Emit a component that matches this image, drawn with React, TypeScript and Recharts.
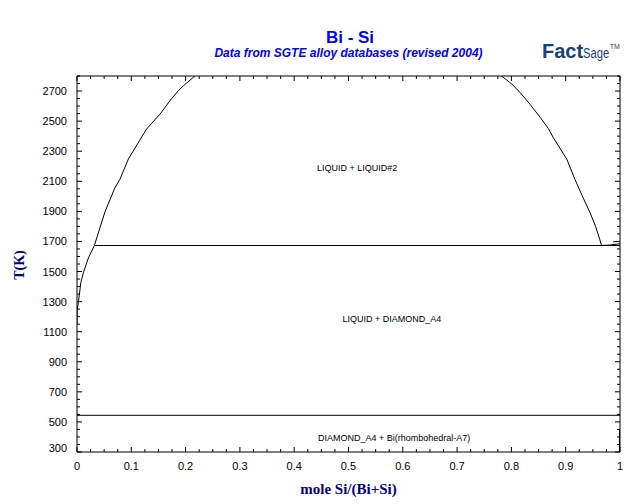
import React from 'react'
import { LineChart, Line, XAxis, YAxis, ReferenceDot } from 'recharts'

// miscibility gap, Bi-rich side (x = mole Si/(Bi+Si), t = K)
const leftX = [0, 0.0005, 0.0024, 0.007, 0.0116, 0.021, 0.032, 0.052, 0.07, 0.079, 0.0945, 0.128, 0.153, 0.171, 0.1865, 0.196, 0.217]
const leftT = [1147, 1250, 1291, 1425, 1491, 1591, 1673, 1902, 2058, 2113, 2247, 2447, 2547, 2635, 2702, 2735, 2800]

// miscibility gap, Si-rich side
const rightX = [0.782, 0.8006, 0.8158, 0.834, 0.853, 0.868, 0.877, 0.902, 0.917, 0.932, 0.945, 0.955, 0.963, 0.966]
const rightT = [2800, 2747, 2691, 2613, 2525, 2451, 2391, 2247, 2113, 1991, 1890, 1800, 1710, 1673]

// monotectic and eutectic lines
const monoX = [0.032, 1]
const monoT = [1673, 1673]
const eutX = [0, 1]
const eutT = [544, 544]

// Si liquidus near x = 1
const siX = [0.966, 0.981, 1]
const siT = [1673, 1676, 1685]
const si2X = [0.987, 0.995]
const si2T = [1697, 1700]

// solvus on the Si side
const solX = [0.999, 0.999]
const solT = [300, 447]

const xMajor = [0, 0.1, 0.2, 0.3, 0.4, 0.5, 0.6, 0.7, 0.8, 0.9, 1]
const yMajor = [300, 500, 700, 900, 1100, 1300, 1500, 1700, 1900, 2100, 2300, 2500, 2700]
const xTicks: number[] = []
for (let i = 0; i <= 40; i++) xTicks.push(i / 40)
const yTicks: number[] = []
for (let v = 300; v <= 2800; v += 50) yTicks.push(v)

const toPts = (xs: number[], ts: number[]) => xs.map((x, i) => ({ x, t: ts[i] }))

const isMajorX = (v: number) => xMajor.some((m) => Math.abs(m - v) < 1e-6)
const isMajorY = (v: number) => yMajor.includes(v)

const tickFont = { fontFamily: 'Liberation Sans, Arial, sans-serif', fontSize: 11, fill: '#000' }

const BottomTick = ({ x, y, payload }: any) => {
  const major = isMajorX(payload.value)
  return (
    <g>
      <line x1={x} x2={x} y1={y} y2={y - (major ? 5 : 3)} stroke="#000" />
      {major && (
        <text x={x} y={y + 18} textAnchor="middle" {...tickFont}>
          {String(Math.round(payload.value * 10) / 10)}
        </text>
      )}
    </g>
  )
}

const TopTick = ({ x, y, payload }: any) => {
  const major = isMajorX(payload.value)
  return <line x1={x} x2={x} y1={y} y2={y + (major ? 5 : 3)} stroke="#000" />
}

const LeftTick = ({ x, y, payload }: any) => {
  const major = isMajorY(payload.value)
  return (
    <g>
      <line x1={x} x2={x + (major ? 5 : 3)} y1={y} y2={y} stroke="#000" />
      {major && (
        <text x={x - 10} y={Math.min(y + 4, 452)} textAnchor="end" {...tickFont}>
          {payload.value}
        </text>
      )}
    </g>
  )
}

const RightTick = ({ x, y, payload }: any) => {
  const major = isMajorY(payload.value)
  return <line x1={x} x2={x - (major ? 5 : 3)} y1={y} y2={y} stroke="#000" />
}

const phaseLabel = (value: string) => ({
  value,
  position: 'center' as const,
  fontSize: 9,
  fill: '#000',
  fontFamily: 'Liberation Sans, Arial, sans-serif',
})

const series = [
  toPts(leftX, leftT),
  toPts(rightX, rightT),
  toPts(monoX, monoT),
  toPts(eutX, eutT),
  toPts(siX, siT),
  toPts(si2X, si2T),
  toPts(solX, solT),
]

export default function App() {
  return (
    <div style={{ position: 'absolute', left: 0, top: 0, width: 640, height: 504, background: '#fff' }}>
      <div
        style={{
          position: 'absolute', left: 0, width: 700, top: 29, lineHeight: '17px', textAlign: 'center',
          fontFamily: 'Liberation Sans, Arial, sans-serif', fontWeight: 'bold', fontSize: 17, color: '#0000ff',
        }}
      >
        Bi - Si
      </div>
      <div
        style={{
          position: 'absolute', left: 0, width: 697, top: 47, lineHeight: '12px', textAlign: 'center',
          fontFamily: 'Liberation Sans, Arial, sans-serif', fontStyle: 'italic', fontWeight: 'bold', fontSize: 12, color: '#0000ff',
        }}
      >
        Data from SGTE alloy databases (revised 2004)
      </div>
      <div
        style={{
          position: 'absolute', left: 542, top: 40, fontFamily: 'Liberation Sans, Arial, sans-serif',
          color: '#1b3f78', whiteSpace: 'nowrap',
        }}
      >
        <span style={{ fontWeight: 'bold', fontSize: 20 }}>Fact</span>
        <span style={{ fontSize: 14, display: 'inline-block', transform: 'scaleX(0.8)', transformOrigin: 'left' }}>Sage</span>
        <span style={{ fontSize: 7, position: 'relative', top: -9, left: -6 }}>TM</span>
      </div>
      <div
        style={{
          position: 'absolute', left: 0, width: 697, top: 481, textAlign: 'center',
          fontFamily: 'Liberation Serif, Times New Roman, serif', fontWeight: 'bold', fontSize: 15, color: '#000080',
        }}
      >
        mole Si/(Bi+Si)
      </div>
      <div
        style={{
          position: 'absolute', left: 20, top: 265, transform: 'translate(-50%, -50%) rotate(-90deg)',
          fontFamily: 'Liberation Serif, Times New Roman, serif', fontWeight: 'bold', fontSize: 14, color: '#000080',
          whiteSpace: 'nowrap',
        }}
      >
        T(K)
      </div>
      <div style={{ position: 'absolute', left: 0, top: 0 }}>
        <LineChart width={640} height={504} margin={{ top: 66, right: 10, bottom: 22, left: 17 }}>
          <XAxis
            xAxisId="b" type="number" dataKey="x" domain={[0, 1]} ticks={xTicks} interval={0}
            height={30} tickSize={0} tickMargin={0} tickLine={false} axisLine={{ stroke: '#000' }}
            tick={(p: any) => <BottomTick {...p} />} allowDataOverflow
          />
          <XAxis
            xAxisId="t" orientation="top" type="number" dataKey="x" domain={[0, 1]} ticks={xTicks} interval={0}
            height={10} tickSize={0} tickMargin={0} tickLine={false} axisLine={{ stroke: '#000' }}
            tick={(p: any) => <TopTick {...p} />} allowDataOverflow
          />
          <YAxis
            yAxisId="l" type="number" domain={[300, 2800]} ticks={yTicks} interval={0}
            width={60} tickSize={0} tickMargin={0} tickLine={false} axisLine={{ stroke: '#000' }}
            tick={(p: any) => <LeftTick {...p} />} allowDataOverflow
          />
          <YAxis
            yAxisId="r" orientation="right" type="number" domain={[300, 2800]} ticks={yTicks} interval={0}
            width={10} tickSize={0} tickMargin={0} tickLine={false} axisLine={{ stroke: '#000' }}
            tick={(p: any) => <RightTick {...p} />} allowDataOverflow
          />
          {series.map((d, i) => (
            <Line
              key={i} xAxisId="b" yAxisId="l" data={d} dataKey="t" type="linear"
              stroke="#000" strokeWidth={1} dot={false} activeDot={false} isAnimationActive={false}
            />
          ))}
          <ReferenceDot xAxisId="b" yAxisId="l" x={0.516} y={2187} r={0} stroke="none" label={phaseLabel('LIQUID + LIQUID#2')} />
          <ReferenceDot xAxisId="b" yAxisId="l" x={0.58} y={1187} r={0} stroke="none" label={phaseLabel('LIQUID + DIAMOND_A4')} />
          <ReferenceDot xAxisId="b" yAxisId="l" x={0.584} y={393} r={0} stroke="none" label={phaseLabel('DIAMOND_A4 + Bi(rhombohedral-A7)')} />
        </LineChart>
      </div>
    </div>
  )
}
